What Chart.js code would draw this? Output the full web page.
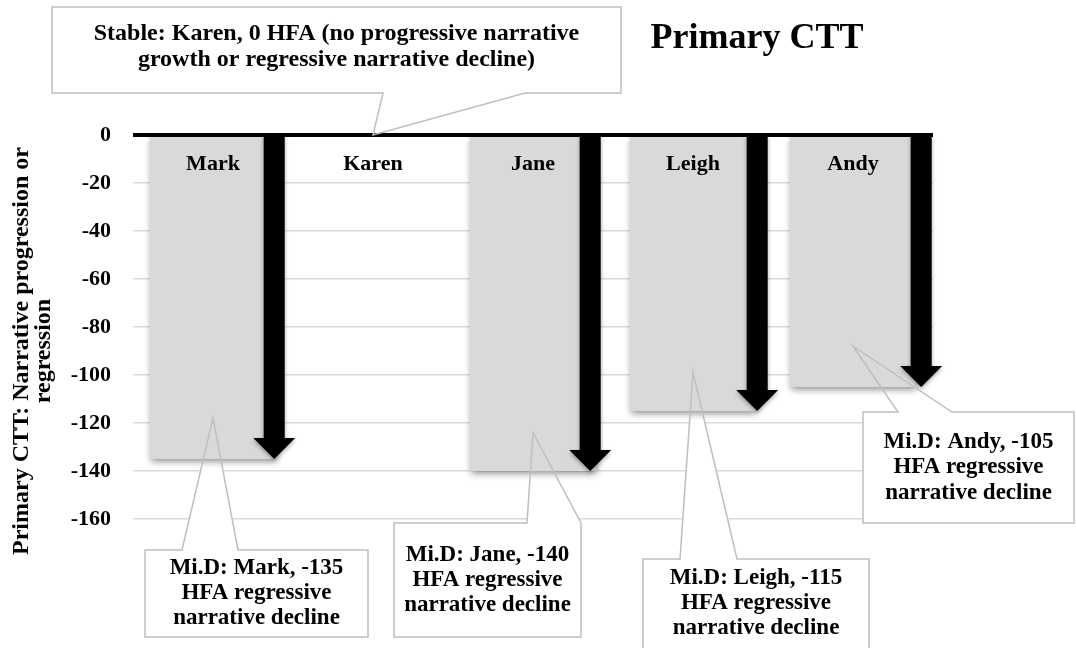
<!DOCTYPE html>
<html><head><meta charset="utf-8">
<script src="https://cdn.jsdelivr.net/npm/chart.js@4"></script>
<style>html,body{margin:0;padding:0;background:#fff}#wrap{width:1076px;height:648px}</style>
</head><body><div id="wrap"><canvas id="c" width="1076" height="648"></canvas></div>
<script>
// ---- data ----
const categories = ['Mark', 'Karen', 'Jane', 'Leigh', 'Andy'];
const hfaValues = [-135, 0, -140, -115, -105];
const yTicks = [0, -20, -40, -60, -80, -100, -120, -140, -160];
const chartTitle = 'Primary CTT';
const yAxisTitle = ['Primary CTT: Narrative progression or', 'regression'];
const calloutTexts = [
  ['Stable: Karen, 0 HFA (no progressive narrative', 'growth or regressive narrative decline)'],
  ['Mi.D: Mark, -135', 'HFA regressive', 'narrative decline'],
  ['Mi.D: Jane, -140', 'HFA regressive', 'narrative decline'],
  ['Mi.D: Leigh, -115', 'HFA regressive', 'narrative decline'],
  ['Mi.D: Andy, -105', 'HFA regressive', 'narrative decline']
];
// callout pointer tips in data terms (category index, value)
const calloutTipCats = [1, 0, 2, 3, 4];
const calloutTipVals = [0, -118, -124, -99, -88];

// ---- layout (pixels) ----
const calloutBoxes = [
  {l: 52, t: 7, r: 621, b: 93, side: 'bottom', b1: 383, b2: 525, dy: -3, lh: 26, fs: 24},
  {l: 145, t: 550, r: 368, b: 637, side: 'top', b1: 182, b2: 238, dy: 0, lh: 25, fs: 23},
  {l: 394, t: 523, r: 581, b: 637, side: 'top', b1: 527, b2: 581, dy: 0, lh: 25, fs: 23},
  {l: 643, t: 559, r: 869, b: 662, side: 'top', b1: 680, b2: 737, dy: -7, lh: 25, fs: 23},
  {l: 863, t: 412, r: 1074, b: 523, side: 'top', b1: 898, b2: 952, dy: 0, lh: 25.5, fs: 23}
];
const arrowNudge = [-2, 0, -6, 1, 5];
const FONT = '"Liberation Serif", "Times New Roman", serif';

Chart.defaults.font.family = FONT;

function calloutPath(ctx, bx, tx, ty) {
  ctx.beginPath();
  if (bx.side === 'top') {
    ctx.moveTo(bx.l, bx.t);
    ctx.lineTo(bx.b1, bx.t);
    ctx.lineTo(tx, ty);
    ctx.lineTo(bx.b2, bx.t);
    ctx.lineTo(bx.r, bx.t);
    ctx.lineTo(bx.r, bx.b);
    ctx.lineTo(bx.l, bx.b);
  } else {
    ctx.moveTo(bx.l, bx.t);
    ctx.lineTo(bx.r, bx.t);
    ctx.lineTo(bx.r, bx.b);
    ctx.lineTo(bx.b2, bx.b);
    ctx.lineTo(tx, ty);
    ctx.lineTo(bx.b1, bx.b);
    ctx.lineTo(bx.l, bx.b);
  }
  ctx.closePath();
}

const decor = {
  id: 'decor',
  beforeDatasetsDraw(chart) {
    const {ctx, scales: {x, y}} = chart;
    ctx.save();
    ctx.fillStyle = '#ffffff';
    calloutBoxes.forEach((bx, i) => {
      const tx = x.getPixelForValue(calloutTipCats[i]);
      const ty = y.getPixelForValue(calloutTipVals[i]);
      calloutPath(ctx, bx, tx, ty);
      ctx.fill();
    });
    ctx.restore();
  },
  beforeDatasetDraw(chart) {
    const ctx = chart.ctx;
    ctx.save();
    ctx.shadowColor = 'rgba(0,0,0,0.45)';
    ctx.shadowBlur = 7;
    ctx.shadowOffsetX = 1;
    ctx.shadowOffsetY = 3;
  },
  afterDatasetDraw(chart) {
    chart.ctx.restore();
  },
  afterDatasetsDraw(chart) {
    const {ctx, scales: {x, y}, chartArea} = chart;
    const y0 = y.getPixelForValue(0);
    const meta = chart.getDatasetMeta(0);
    // arrows
    ctx.save();
    ctx.fillStyle = '#000';
    ctx.shadowColor = 'rgba(0,0,0,0.35)';
    ctx.shadowBlur = 4;
    ctx.shadowOffsetY = 2;
    hfaValues.forEach((v, i) => {
      if (v === 0) return;
      const bar = meta.data[i];
      const cx = bar.x + bar.width / 2 + arrowNudge[i];
      const tip = y.getPixelForValue(v);
      const headH = 21, headW = 42, shaftW = 21;
      ctx.beginPath();
      ctx.moveTo(cx - shaftW / 2, y0);
      ctx.lineTo(cx + shaftW / 2, y0);
      ctx.lineTo(cx + shaftW / 2, tip - headH);
      ctx.lineTo(cx + headW / 2, tip - headH);
      ctx.lineTo(cx, tip);
      ctx.lineTo(cx - headW / 2, tip - headH);
      ctx.lineTo(cx - shaftW / 2, tip - headH);
      ctx.closePath();
      ctx.fill();
    });
    ctx.restore();
    // zero line
    ctx.save();
    ctx.strokeStyle = '#000';
    ctx.lineWidth = 4;
    ctx.beginPath();
    ctx.moveTo(chartArea.left, y0);
    ctx.lineTo(chartArea.right, y0);
    ctx.stroke();
    ctx.restore();
    // category labels
    ctx.save();
    ctx.fillStyle = '#000';
    ctx.font = 'bold 22px ' + FONT;
    ctx.textAlign = 'center';
    ctx.textBaseline = 'alphabetic';
    categories.forEach((c, i) => {
      ctx.fillText(c, x.getPixelForValue(i), y0 + 35);
    });
    ctx.restore();
    // callout outlines + text
    ctx.save();
    calloutBoxes.forEach((bx, i) => {
      const tx = x.getPixelForValue(calloutTipCats[i]);
      const ty = y.getPixelForValue(calloutTipVals[i]);
      calloutPath(ctx, bx, tx, ty);
      ctx.strokeStyle = '#bfbfbf';
      ctx.lineWidth = 1.5;
      ctx.stroke();
      const lines = calloutTexts[i];
      ctx.font = 'bold ' + bx.fs + 'px ' + FONT;
      ctx.fillStyle = '#000';
      ctx.textAlign = 'center';
      ctx.textBaseline = 'middle';
      const cx = (bx.l + bx.r) / 2;
      const cy = (bx.t + bx.b) / 2 + bx.dy;
      lines.forEach((ln, k) => {
        ctx.fillText(ln, cx, cy + (k - (lines.length - 1) / 2) * bx.lh);
      });
    });
    ctx.restore();
    // chart title
    ctx.save();
    ctx.font = 'bold 36px ' + FONT;
    ctx.fillStyle = '#000';
    ctx.textAlign = 'center';
    ctx.textBaseline = 'alphabetic';
    ctx.fillText(chartTitle, 757, 48);
    ctx.restore();
  }
};

new Chart(document.getElementById('c'), {
  type: 'bar',
  data: {
    labels: categories,
    datasets: [{
      data: hfaValues,
      backgroundColor: '#d9d9d9',
      borderWidth: 0,
      categoryPercentage: 1,
      barPercentage: 0.79
    }]
  },
  options: {
    responsive: false,
    animation: false,
    devicePixelRatio: 1,
    layout: {padding: {top: 135, right: 143, bottom: 81, left: 0}},
    plugins: {legend: {display: false}, tooltip: {enabled: false}, title: {display: false}},
    scales: {
      x: {display: false},
      y: {
        min: -180, max: 0,
        afterBuildTicks: (s) => { s.ticks = yTicks.map(v => ({value: v})); },
        afterFit: (s) => { s.width = 133; },
        border: {display: false},
        grid: {
          drawTicks: false,
          lineWidth: 1.5,
          color: (c) => (c.tick && c.tick.value === 0) ? 'rgba(0,0,0,0)' : '#d9d9d9'
        },
        ticks: {
          padding: 22,
          color: '#000',
          font: {size: 22, weight: 'bold'},
          callback: (v) => String(v)
        },
        title: {
          display: true,
          text: yAxisTitle,
          color: '#000',
          font: {size: 24, weight: 'bold', lineHeight: 0.9},
          padding: {top: 11, bottom: 0}
        }
      }
    }
  },
  plugins: [decor]
});
</script>
</body></html>
